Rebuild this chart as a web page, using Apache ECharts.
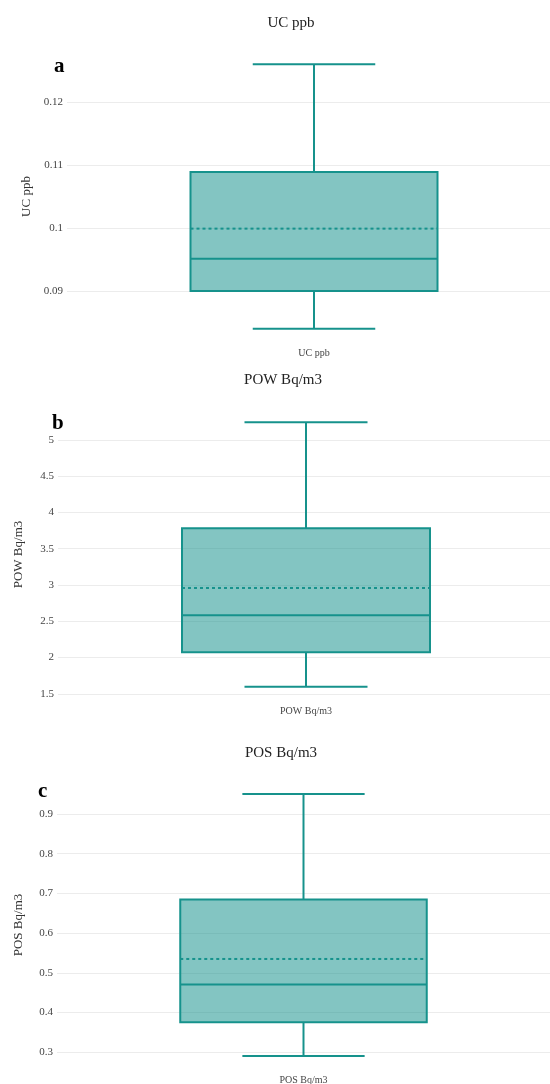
<!DOCTYPE html>
<html>
<head>
<meta charset="utf-8">
<script src="https://cdn.jsdelivr.net/npm/echarts@6/dist/echarts.min.js"></script>
<style>
  html, body { margin: 0; padding: 0; background: #fff; }
  #main { width: 550px; height: 1084px; }
</style>
</head>
<body>
<div id="main"></div>
<script>
    // 数据：每个面板一个箱线图 [min, q1, median, q3, max]，外加均值
    var panelNames = ['UC ppb', 'POW Bq/m3', 'POS Bq/m3'];
    var panelLetters = ['a', 'b', 'c'];

    var ucBox = [0.0840, 0.0900, 0.0951, 0.1089, 0.1260];
    var ucMean = 0.0999;
    var powBox = [1.597, 2.074, 2.583, 3.784, 5.244];
    var powMean = 2.959;
    var posBox = [0.291, 0.376, 0.471, 0.685, 0.950];
    var posMean = 0.535;

    var yMins = [0.0819, 1.415, 0.258];
    var yMaxs = [0.1281, 5.426, 0.983];
    var yIntervals = [0.01, 0.5, 0.1];

    var boxes = [ucBox, powBox, posBox];
    var means = [ucMean, powMean, posMean];

    var FONT = 'Liberation Serif';
    var LINE = '#16928c';
    var FILL = 'rgba(8, 140, 134, 0.5)';

    // 布局
    var grids = [
        { left: 67, top: 51, width: 494, height: 291, outerBoundsMode: 'none' },
        { left: 58, top: 409, width: 496, height: 291, outerBoundsMode: 'none' },
        { left: 57, top: 781, width: 493, height: 288, outerBoundsMode: 'none' }
    ];
    var titlePos = [[286, 11], [278, 368], [276, 741]];
    var letterPos = [[60, 68], [58, 425], [44, 793]];
    var nameGaps = [27, 33, 32];

    function lineStyle(dash) {
        var s = { stroke: LINE, lineWidth: 2 };
        if (dash) s.lineDash = [3, 3];
        return s;
    }

    function renderBox(params, api) {
        var band = api.size([1, 0])[0];
        var cat = api.value(0);
        var cx = api.coord([cat, api.value(3)])[0];
        function y(i) { return api.coord([cat, api.value(i)])[1]; }
        var half = band * 0.25, cap = band * 0.124;
        var yMin = y(1), yQ1 = y(2), yMed = y(3), yQ3 = y(4), yMax = y(5), yMean = y(6);
        return {
            type: 'group',
            children: [
                { type: 'line', shape: { x1: cx, y1: yQ3, x2: cx, y2: yMax }, style: lineStyle() },
                { type: 'line', shape: { x1: cx, y1: yQ1, x2: cx, y2: yMin }, style: lineStyle() },
                { type: 'line', shape: { x1: cx - cap, y1: yMax, x2: cx + cap, y2: yMax }, style: lineStyle() },
                { type: 'line', shape: { x1: cx - cap, y1: yMin, x2: cx + cap, y2: yMin }, style: lineStyle() },
                { type: 'rect', shape: { x: cx - half, y: yQ3, width: half * 2, height: yQ1 - yQ3 },
                  style: { fill: FILL, stroke: LINE, lineWidth: 2 } },
                { type: 'line', shape: { x1: cx - half, y1: yMed, x2: cx + half, y2: yMed }, style: lineStyle() },
                { type: 'line', shape: { x1: cx - half, y1: yMean, x2: cx + half, y2: yMean }, style: lineStyle(true) }
            ]
        };
    }

    var option = {
        backgroundColor: '#fff',
        animation: false,
        title: [], grid: [], xAxis: [], yAxis: [], series: [], graphic: []
    };

    for (var i = 0; i < 3; i++) {
        option.title.push({
            text: panelNames[i], left: titlePos[i][0], top: titlePos[i][1], textAlign: 'center',
            textStyle: { fontFamily: FONT, fontSize: 15, fontWeight: 'normal', color: '#222' }
        });
        option.grid.push(grids[i]);
        option.xAxis.push({
            type: 'category', gridIndex: i, data: [panelNames[i]],
            axisLine: { show: false }, axisTick: { show: false },
            axisLabel: { fontFamily: FONT, fontSize: 10, color: '#444', margin: 6 }
        });
        (function (iv) {
            option.yAxis.push({
                type: 'value', gridIndex: i, min: yMins[i], max: yMaxs[i],
                minInterval: iv, maxInterval: iv,
                name: panelNames[i], nameLocation: 'middle', nameGap: nameGaps[i],
                nameTextStyle: { fontFamily: FONT, fontSize: 13, color: '#333' },
                axisLine: { show: false }, axisTick: { show: false },
                axisLabel: {
                    fontFamily: FONT, fontSize: 11, color: '#444', margin: 4,
                    showMinLabel: false, showMaxLabel: false
                },
                splitLine: { show: true, showMinLine: false, showMaxLine: false,
                             lineStyle: { color: '#ececec', width: 1 } }
            });
        })(yIntervals[i]);
        var b = boxes[i];
        option.series.push({
            type: 'custom', xAxisIndex: i, yAxisIndex: i,
            renderItem: renderBox,
            encode: { x: 0, y: [1, 2, 3, 4, 5, 6] },
            data: [[0, b[0], b[1], b[2], b[3], b[4], means[i]]]
        });
        option.graphic.push({
            type: 'text', left: letterPos[i][0] - 6, top: letterPos[i][1] - 12,
            style: { text: panelLetters[i], font: 'bold 21px "Liberation Serif"', fill: '#000' }
        });
    }

    var myChart = echarts.init(document.getElementById('main'));
    myChart.setOption(option);
</script>
</body>
</html>
